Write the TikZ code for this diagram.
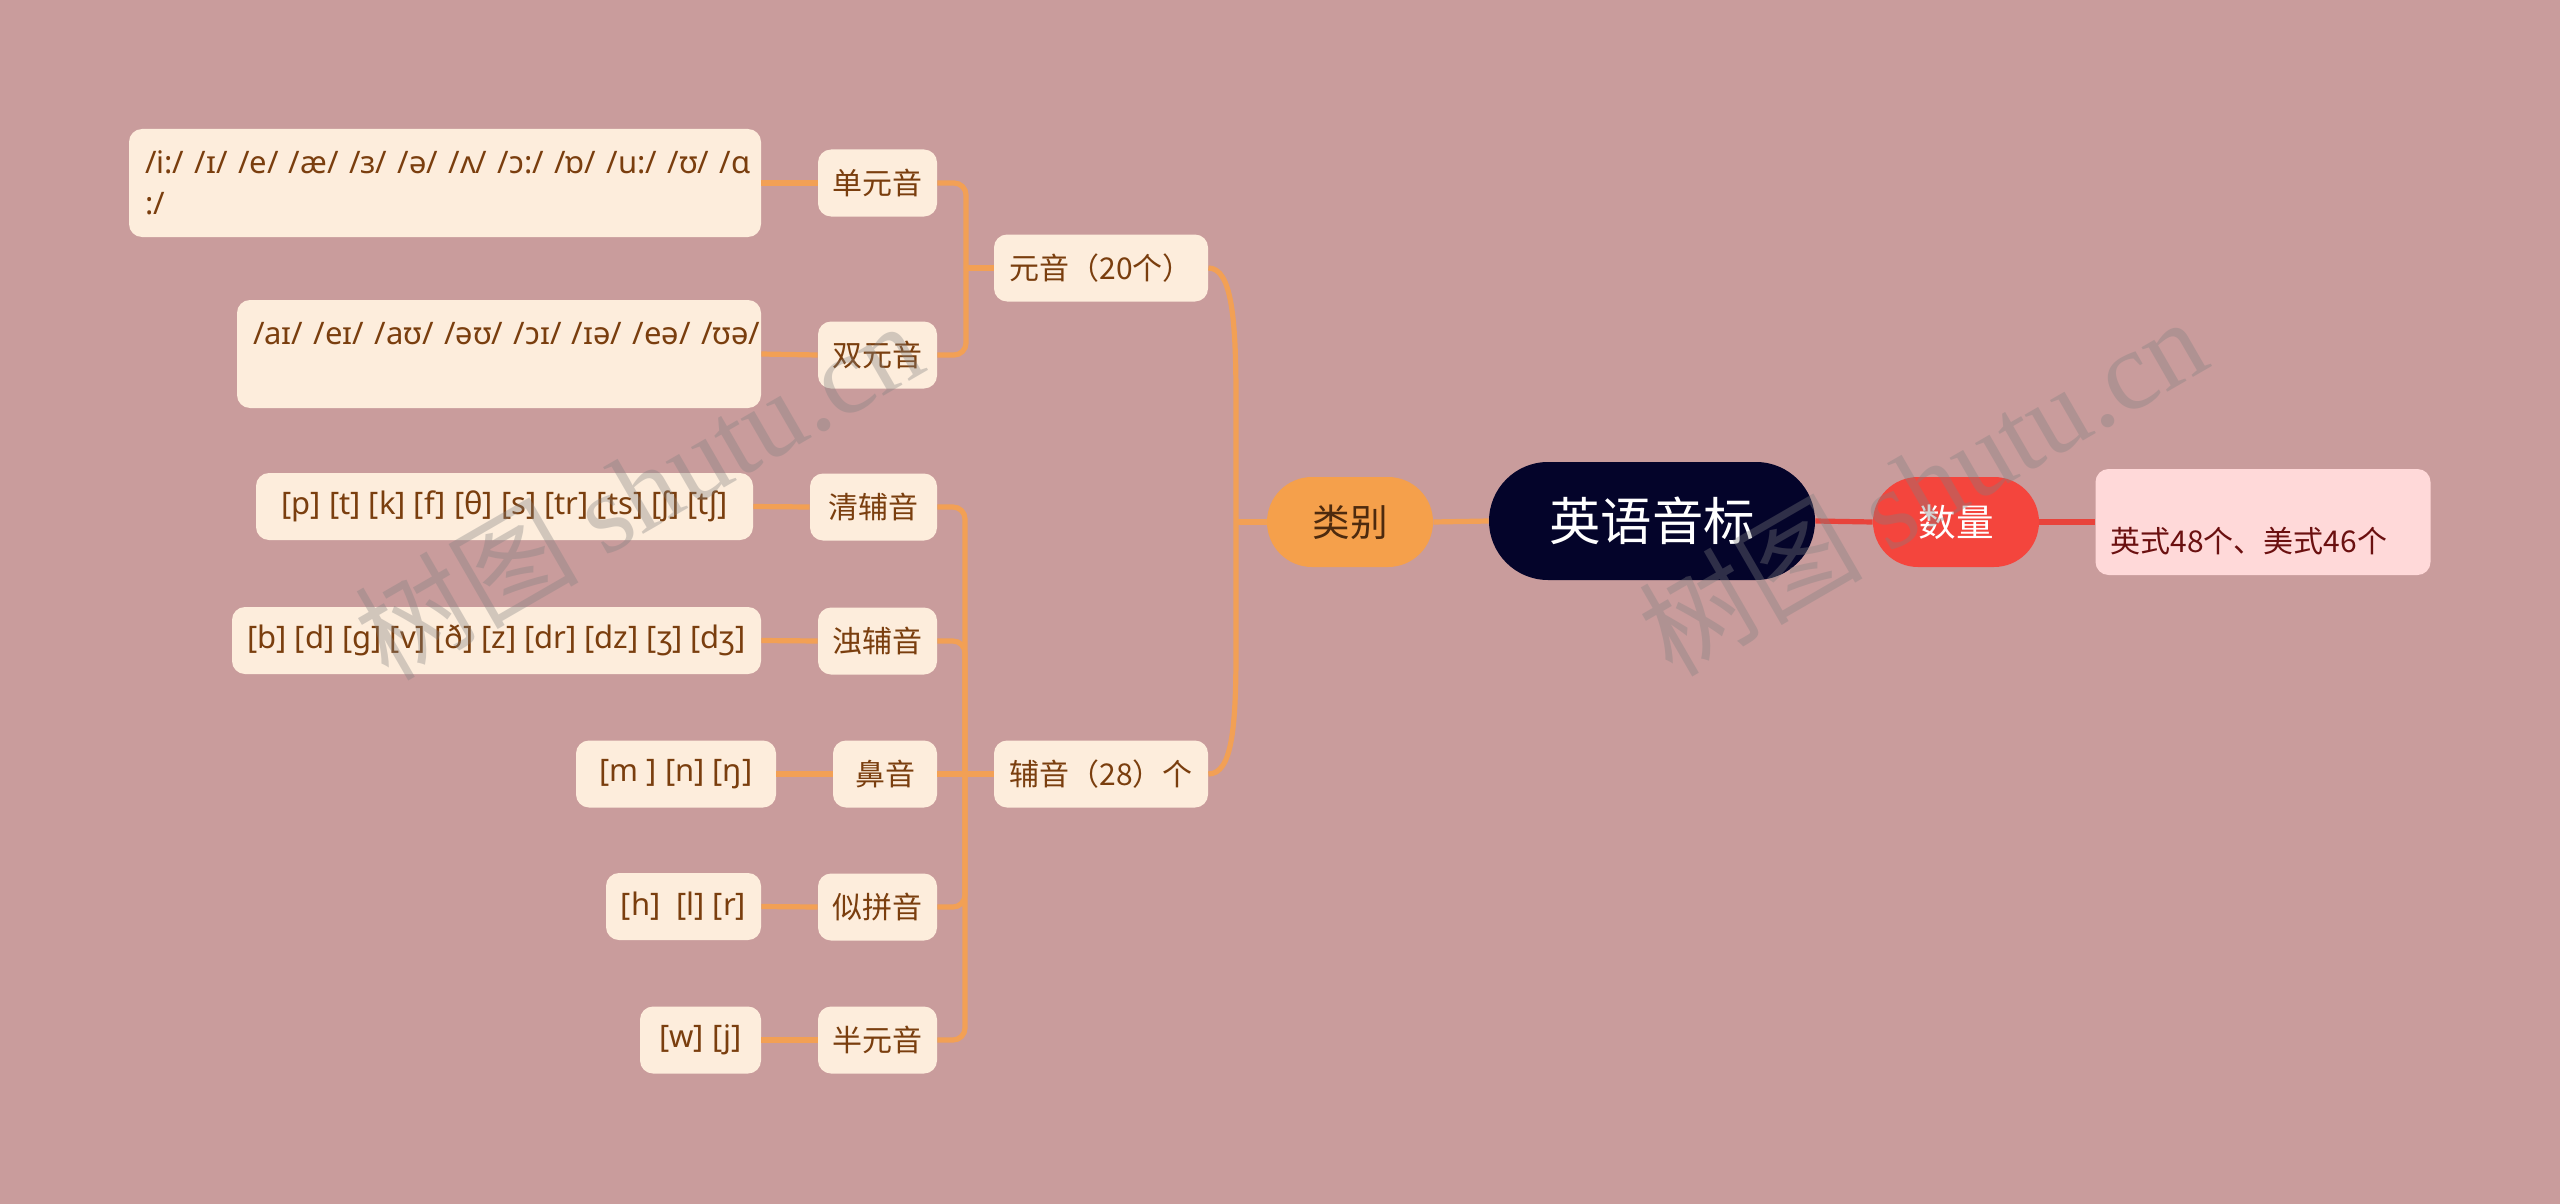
\documentclass[tikz,border=0pt]{standalone}
\usepackage{fontspec}
\usetikzlibrary{shapes.misc}
\newfontfamily\cjk{Noto Sans CJK SC}
\newfontfamily\ipa{Noto Sans}
\newfontfamily\wmfont{Liberation Serif}
\definecolor{bgc}{HTML}{C99C9C}
\definecolor{leaffill}{HTML}{FDEDDC}
\definecolor{lineor}{HTML}{F2A055}
\definecolor{brown}{HTML}{7A3E0E}
\definecolor{lbfill}{HTML}{F5A04B}
\definecolor{lbtext}{HTML}{4D2A0E}
\definecolor{rootfill}{HTML}{04042A}
\definecolor{redfill}{HTML}{F4453D}
\definecolor{redline}{HTML}{E8433B}
\definecolor{pinkfill}{HTML}{FFD9D9}
\definecolor{pinktext}{HTML}{6B1010}
\definecolor{wmgray}{HTML}{808080}
\begin{document}
\begin{tikzpicture}[x=0.5pt,y=-0.5pt,
  cbox/.style={draw=none, fill=leaffill, rounded corners=6.5pt, text=brown,
    font=\cjk\fontsize{15pt}{20pt}\selectfont, minimum height=33.5pt, inner sep=0pt},
  ibox/.style={draw=none, fill=leaffill, rounded corners=6.5pt, text=brown,
    font=\ipa\fontsize{15.5pt}{20.5pt}\selectfont, minimum height=33.5pt, inner sep=0pt},
  oline/.style={draw=lineor, line width=2.6pt},
  rline/.style={draw=redline, line width=2.6pt},
  wm/.style={text=wmgray, opacity=0.35, rotate=30, inner sep=0pt}
]
\fill[bgc] (0,0) rectangle (2560,1204);
\useasboundingbox (0,0) rectangle (2560,1204);

% junctions
\coordinate (jl) at (1236,522);
\coordinate (jv) at (966,268);
\coordinate (jc) at (965,774);

% central nodes
\node[rounded rectangle, fill=rootfill, text=white, minimum width=163pt, minimum height=59pt,
  inner sep=0pt, font=\cjk\fontsize{25.7pt}{30pt}\selectfont] (root) at (1652,521) {英语音标};
\node[rounded rectangle, fill=lbfill, text=lbtext, minimum width=83pt, minimum height=45pt,
  inner sep=0pt, font=\cjk\fontsize{18.8pt}{22pt}\selectfont] (lb) at (1350,522) {类别};
\node[rounded rectangle, fill=redfill, text=white, minimum width=83pt, minimum height=45pt,
  inner sep=0pt, font=\cjk\fontsize{18.8pt}{22pt}\selectfont] (sl) at (1956,522) {数量};
\node[fill=pinkfill, rounded corners=6.5pt, text=pinktext, minimum width=167.5pt, minimum height=53pt,
  inner xsep=7.5pt, inner ysep=0pt, text width=152.5pt, align=left,
  font=\cjk\fontsize{15pt}{32pt}\selectfont] (ct) at (2263,522) {\mbox{}\\英式48个、美式46个};

% second level
\node[cbox, minimum width=107pt] (vw) at (1101,268) {元音（20个）};
\node[cbox, minimum width=107pt] (cs) at (1101,774) {辅音（28）个};

% third level
\node[cbox, minimum width=59.5pt] (v1) at (877.5,183) {单元音};
\node[cbox, minimum width=59.5pt] (v2) at (877.5,355) {双元音};
\node[cbox, minimum width=63.5pt] (c1) at (873.5,507) {清辅音};
\node[cbox, minimum width=59.5pt] (c2) at (877.5,641) {浊辅音};
\node[cbox, minimum width=52pt] (c3) at (885,774) {鼻音};
\node[cbox, minimum width=59.5pt] (c4) at (877.5,907) {似拼音};
\node[cbox, minimum width=59.5pt] (c5) at (877.5,1040) {半元音};

% leaves
\node[ibox, minimum height=54pt, inner xsep=8pt, text width=300pt, align=left] (l1) at (445,183)
  {\mbox{/i:/ /ɪ/ /e/ /æ/ /ɜ/ /ə/ /ʌ/ /ɔ:/ /ɒ/ /u:/ /ʊ/ /ɑ}\\:/};
\node[ibox, minimum height=54pt, inner xsep=8pt, text width=246pt, align=left] (l2) at (499,354)
  {\mbox{/aɪ/ /eɪ/ /aʊ/ /əʊ/ /ɔɪ/ /ɪə/ /eə/ /ʊə/}\\\mbox{}};
\node[ibox, minimum width=248.5pt] (l3) at (504.5,506.5) {[p] [t] [k] [f] [θ] [s] [tr] [ts] [ʃ] [tʃ]};
\node[ibox, minimum width=264.5pt] (l4) at (496.5,640.5) {[b] [d] [g] [v] [ð] [z] [dr] [dz] [ʒ] [dʒ]};
\node[ibox, minimum width=100pt] (l5) at (676,774) {[m ] [n] [ŋ]};
\node[ibox, minimum width=77.5pt] (l6) at (683.5,906.5) {[h]\ \ [l] [r]};
\node[ibox, minimum width=60.5pt] (l7) at (700.5,1040) {[w] [j]};

% connectors
\draw[oline] (root.west) -- (lb.east);
\draw[rline] (root.east) -- (sl.west);
\draw[rline] (sl.east) -- (ct.west);

\draw[oline] (lb.west) -- (jl);
\draw[oline] (vw.east) .. controls (1232,268) and (1236,320) .. (1236,400) -- (jl)
  -- (1236,650) .. controls (1236,728) and (1232,774) .. (cs.east);

\draw[oline] (vw.west) -- (jv);
\draw[oline, rounded corners=6pt] (v1.east) -| (jv) |- (v2.east);

\draw[oline] (cs.west) -- (jc);
\draw[oline, rounded corners=6pt] (c1.east) -| (jc) |- (c5.east);
\draw[oline, rounded corners=6pt] (c2.east) -| (jc);
\draw[oline, rounded corners=6pt] (c4.east) -| (jc);
\draw[oline] (c3.east) -- (jc);

\draw[oline] (l1.east) -- (v1.west);
\draw[oline] (l2.east) -- (v2.west);
\draw[oline] (l3.east) -- (c1.west);
\draw[oline] (l4.east) -- (c2.west);
\draw[oline] (l5.east) -- (c3.west);
\draw[oline] (l6.east) -- (c4.west);
\draw[oline] (l7.east) -- (c5.west);

% watermarks
\node[wm] (wm1) at (638,489) {\cjk\fontsize{56pt}{60pt}\selectfont 树图 \wmfont shutu.cn};
\node[wm] (wm2) at (1922,485) {\cjk\fontsize{56pt}{60pt}\selectfont 树图 \wmfont shutu.cn};
\end{tikzpicture}
\end{document}
